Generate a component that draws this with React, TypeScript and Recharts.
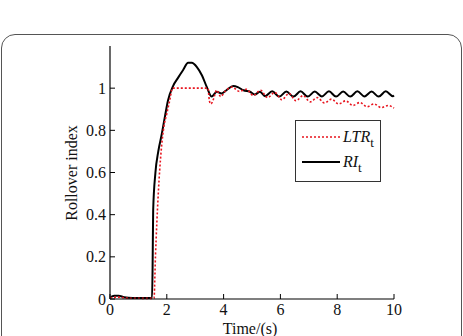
import React from "react";
import { LineChart, Line, XAxis, YAxis } from "recharts";

// time axis in seconds, rollover index values
const riData = [
  { t: 0, v: 0.008 }, { t: 0.15, v: 0.015 }, { t: 0.3, v: 0.016 }, { t: 0.5, v: 0.008 },
  { t: 0.8, v: 0.005 }, { t: 1.48, v: 0.005 }, { t: 1.5, v: 0.15 }, { t: 1.52, v: 0.42 },
  { t: 1.6, v: 0.6 }, { t: 1.7, v: 0.7 }, { t: 1.82, v: 0.78 }, { t: 1.94, v: 0.87 },
  { t: 2.04, v: 0.94 }, { t: 2.22, v: 1.01 }, { t: 2.4, v: 1.05 }, { t: 2.57, v: 1.085 },
  { t: 2.75, v: 1.12 }, { t: 2.88, v: 1.12 }, { t: 3.06, v: 1.1 }, { t: 3.24, v: 1.06 },
  { t: 3.41, v: 1.005 }, { t: 3.58, v: 0.96 }, { t: 3.76, v: 0.983 }, { t: 3.93, v: 0.975 },
  { t: 4.1, v: 0.99 }, { t: 4.34, v: 1.01 }, { t: 4.5, v: 1.005 }, { t: 4.7, v: 0.99 },
  { t: 4.93, v: 0.983 }, { t: 5.1, v: 0.97 }, { t: 5.28, v: 0.983 }, { t: 5.46, v: 0.962 },
  { t: 5.71, v: 0.985 }, { t: 5.96, v: 0.96 }, { t: 6.21, v: 0.984 }, { t: 6.46, v: 0.96 },
  { t: 6.71, v: 0.985 }, { t: 6.96, v: 0.96 }, { t: 7.21, v: 0.984 }, { t: 7.46, v: 0.961 },
  { t: 7.71, v: 0.985 }, { t: 7.96, v: 0.96 }, { t: 8.21, v: 0.984 }, { t: 8.46, v: 0.96 },
  { t: 8.71, v: 0.985 }, { t: 8.96, v: 0.961 }, { t: 9.21, v: 0.984 }, { t: 9.46, v: 0.96 },
  { t: 9.71, v: 0.985 }, { t: 9.96, v: 0.962 }, { t: 10, v: 0.965 },
];

const ltrData = [
  { t: 0, v: 0.005 }, { t: 0.3, v: 0.009 }, { t: 0.6, v: 0.004 }, { t: 1.55, v: 0.003 },
  { t: 1.6, v: 0.2 }, { t: 1.7, v: 0.5 }, { t: 1.8, v: 0.7 }, { t: 1.9, v: 0.82 },
  { t: 2.0, v: 0.88 }, { t: 2.1, v: 0.94 }, { t: 2.2, v: 1.0 }, { t: 3.45, v: 1.0 },
  { t: 3.5, v: 0.94 }, { t: 3.55, v: 0.925 }, { t: 3.65, v: 0.95 }, { t: 3.75, v: 0.99 },
  { t: 3.9, v: 0.96 }, { t: 4.05, v: 0.985 }, { t: 4.3, v: 1.005 }, { t: 4.55, v: 0.985 },
  { t: 4.8, v: 0.995 }, { t: 5.05, v: 0.965 }, { t: 5.3, v: 0.99 }, { t: 5.55, v: 0.955 },
  { t: 5.8, v: 0.98 }, { t: 6.05, v: 0.945 }, { t: 6.3, v: 0.975 }, { t: 6.55, v: 0.94 },
  { t: 6.8, v: 0.965 }, { t: 7.05, v: 0.935 }, { t: 7.3, v: 0.955 }, { t: 7.55, v: 0.93 },
  { t: 7.8, v: 0.948 }, { t: 8.05, v: 0.925 }, { t: 8.3, v: 0.94 }, { t: 8.55, v: 0.918 },
  { t: 8.8, v: 0.932 }, { t: 9.05, v: 0.912 }, { t: 9.3, v: 0.925 }, { t: 9.55, v: 0.908 },
  { t: 9.8, v: 0.918 }, { t: 10, v: 0.905 },
];

const xTicks = [0, 2, 4, 6, 8, 10];
const yTicks = [0, 0.2, 0.4, 0.6, 0.8, 1];

const W = 463;
const H = 336;
const LEFT = 110;
const RIGHT = 394;
const TOP = 46;
const BOTTOM = 299;
const FONT = "'Liberation Serif', 'Times New Roman', serif";

const LeftTick = (props: any) => {
  const { y, payload } = props;
  return (
    <g>
      <line x1={LEFT} x2={LEFT + 5} y1={y} y2={y} stroke="#000" strokeWidth={1} />
      <text x={LEFT - 4} y={y} dy={5.5} textAnchor="end" fontSize={16} fontFamily={FONT} fill="#111">
        {payload.value}
      </text>
    </g>
  );
};

const RightTick = (props: any) => {
  const { y } = props;
  return <line x1={RIGHT - 5} x2={RIGHT} y1={y} y2={y} stroke="#000" strokeWidth={1} />;
};

const BottomTick = (props: any) => {
  const { x, payload } = props;
  return (
    <g>
      <line x1={x} x2={x} y1={BOTTOM} y2={BOTTOM - 5} stroke="#000" strokeWidth={1} />
      <text x={x} y={BOTTOM + 16} textAnchor="middle" fontSize={16} fontFamily={FONT} fill="#111">
        {payload.value}
      </text>
    </g>
  );
};

const TopTick = (props: any) => {
  const { x } = props;
  return <line x1={x} x2={x} y1={TOP} y2={TOP + 5} stroke="#000" strokeWidth={1} />;
};

const Overlay = () => (
  <svg width={W} height={H} style={{ position: "absolute", left: 0, top: 0, pointerEvents: "none" }}>
    {/* axis titles */}
    <text
      x={0}
      y={0}
      transform="translate(77 173) rotate(-90)"
      textAnchor="middle"
      fontSize={16}
      fontFamily={FONT}
      fill="#111"
    >
      Rollover index
    </text>
    <text x={250} y={334} textAnchor="middle" fontSize={16} fontFamily={FONT} fill="#111">
      Time/(s)
    </text>
    {/* legend */}
    <g transform="translate(295 120)">
      <rect x={0.5} y={0.5} width={85} height={61} fill="#fff" stroke="#333" strokeWidth={1} />
      <line x1={7} x2={45} y1={17} y2={17} stroke="#e8141e" strokeWidth={1.6} strokeDasharray="2 2" />
      <line x1={7} x2={45} y1={42} y2={42} stroke="#000" strokeWidth={2} />
      <text x={48} y={22} fontSize={16} fontFamily={FONT} fill="#111">
        <tspan fontStyle="italic">LTR</tspan>
        <tspan fontSize={13} dy={5}>t</tspan>
      </text>
      <text x={48} y={47} fontSize={16} fontFamily={FONT} fill="#111">
        <tspan fontStyle="italic">RI</tspan>
        <tspan fontSize={13} dy={5}>t</tspan>
      </text>
    </g>
  </svg>
);

export default function App() {
  return (
    <div
      style={{
        position: "fixed",
        left: 0,
        top: 0,
        width: W,
        height: H,
        overflow: "hidden",
        background: "#fff",
      }}
    >
      <div
        style={{
          position: "absolute",
          left: 1,
          top: 34,
          width: W - 4,
          height: 400,
          border: "1.5px solid #555",
          borderRadius: 14,
        }}
      />
      <div style={{ position: "absolute", left: 0, top: 0 }}>
        <LineChart
          width={W}
          height={H}
          margin={{ top: TOP, right: W - RIGHT, bottom: H - BOTTOM - 30, left: LEFT - 40 }}
        >
          <XAxis
            xAxisId="b"
            dataKey="t"
            type="number"
            domain={[0, 10]}
            ticks={xTicks}
            tick={<BottomTick />}
            tickLine={false}
            height={30}
            axisLine={{ stroke: "#000", strokeWidth: 1.2 }}
            allowDuplicatedCategory={false}
          />
          <XAxis
            xAxisId="t"
            orientation="top"
            dataKey="t"
            type="number"
            domain={[0, 10]}
            ticks={xTicks}
            tick={<TopTick />}
            tickLine={false}
            height={0}
            axisLine={{ stroke: "#000", strokeWidth: 1.2 }}
            allowDuplicatedCategory={false}
          />
          <YAxis
            yAxisId="l"
            type="number"
            domain={[0, 1.2]}
            ticks={yTicks}
            tick={<LeftTick />}
            tickLine={false}
            width={40}
            axisLine={{ stroke: "#444", strokeWidth: 1.6 }}
          />
          <YAxis
            yAxisId="r"
            orientation="right"
            type="number"
            domain={[0, 1.2]}
            ticks={yTicks}
            tick={<RightTick />}
            tickLine={false}
            width={0}
            axisLine={{ stroke: "#000", strokeWidth: 1.2 }}
          />
          <Line
            xAxisId="b"
            yAxisId="l"
            data={riData}
            dataKey="v"
            type="monotone"
            stroke="#000"
            strokeWidth={2}
            dot={false}
            isAnimationActive={false}
          />
          <Line
            xAxisId="b"
            yAxisId="l"
            data={ltrData}
            dataKey="v"
            type="monotone"
            stroke="#e8141e"
            strokeWidth={1.6}
            strokeDasharray="2 2"
            dot={false}
            isAnimationActive={false}
          />
        </LineChart>
      </div>
      <Overlay />
    </div>
  );
}
